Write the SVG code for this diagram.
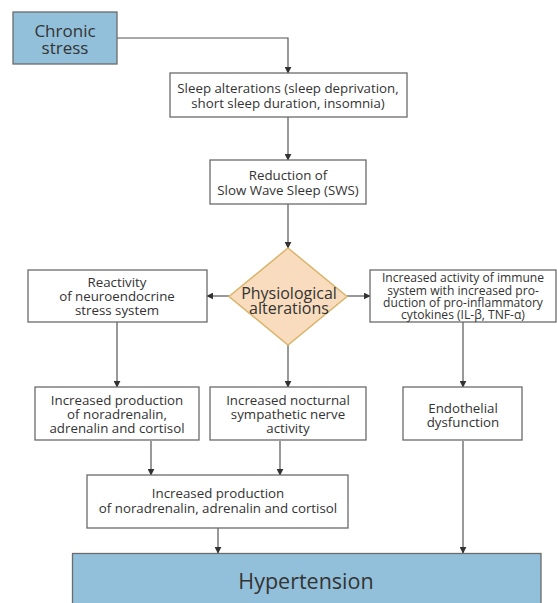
<svg xmlns="http://www.w3.org/2000/svg" width="557" height="603" viewBox="0 0 557 603">
<defs>
<marker id="ah" viewBox="0 0 10 10" refX="9" refY="5" markerWidth="7" markerHeight="7" markerUnits="userSpaceOnUse" orient="auto">
<path d="M0,0 L10,5 L0,10 z" fill="#333"/>
</marker>
<style>
.box{fill:#fff;stroke:#6b6b6b;stroke-width:1.3}
.blue{fill:#92c0da;stroke:#6b6b6b;stroke-width:1.3}
.dia{fill:#f9dcbd;stroke:#d9b46b;stroke-width:1.5}
text{font-family:"Open Sans","Noto Sans","Liberation Sans",sans-serif;fill:#333;text-anchor:middle}
.t13{font-size:13.3px}
.t12{font-size:12.1px}
.conn path{fill:none;stroke:#555;stroke-width:1.2;marker-end:url(#ah)}
</style>
</defs>
<g class="conn" id="connectors">
<path d="M117,38 H288 V73"/>
<path d="M288,117 V160"/>
<path d="M288,204 V248"/>
<path d="M229,296 H207"/>
<path d="M347,296 H370"/>
<path d="M117,322 V387"/>
<path d="M288,345 V387"/>
<path d="M463,322 V387"/>
<path d="M151,441 V475"/>
<path d="M280,441 V475"/>
<path d="M218,528 V553"/>
<path d="M463,441 V553"/>
</g>
<g id="chronic">
<rect class="blue" x="13" y="12" width="104" height="52"/>
<text x="65" y="37" style="font-size:17px">Chronic</text>
<text x="65" y="54" style="font-size:17px">stress</text>
</g>
<g id="sleep">
<rect class="box" x="170" y="73" width="237" height="44"/>
<text class="t13" x="288" y="93">Sleep alterations (sleep deprivation,</text>
<text class="t13" x="288" y="108">short sleep duration, insomnia)</text>
</g>
<g id="sws">
<rect class="box" x="210" y="160" width="156" height="44"/>
<text class="t13" x="288" y="180">Reduction of</text>
<text class="t13" x="288" y="195">Slow Wave Sleep (SWS)</text>
</g>
<g id="physio">
<polygon class="dia" points="288,248 347,296.5 288,345 229,296.5"/>
<text x="289" y="299" style="font-size:16px">Physiological</text>
<text x="289" y="314" style="font-size:16px">alterations</text>
</g>
<g id="reactivity">
<rect class="box" x="28" y="270" width="179" height="52"/>
<text class="t13" x="117" y="287">Reactivity</text>
<text class="t13" x="117" y="301">of neuroendocrine</text>
<text class="t13" x="117" y="315">stress system</text>
</g>
<g id="immune">
<rect class="box" x="370" y="270" width="186" height="52"/>
<text class="t12" x="463" y="282">Increased activity of immune</text>
<text class="t12" x="463" y="294.5">system with increased pro-</text>
<text class="t12" x="463" y="306.5">duction of pro-inflammatory</text>
<text class="t12" x="463" y="319">cytokines (IL-β, TNF-α)</text>
</g>
<g id="production1">
<rect class="box" x="35" y="387" width="164" height="53"/>
<text class="t13" x="117" y="405">Increased production</text>
<text class="t13" x="117" y="419">of noradrenalin,</text>
<text class="t13" x="117" y="433">adrenalin and cortisol</text>
</g>
<g id="nocturnal">
<rect class="box" x="210" y="387" width="156" height="53"/>
<text class="t13" x="288" y="405">Increased nocturnal</text>
<text class="t13" x="288" y="419">sympathetic nerve</text>
<text class="t13" x="288" y="433">activity</text>
</g>
<g id="endothelial">
<rect class="box" x="403" y="387" width="119" height="53"/>
<text class="t13" x="463" y="413">Endothelial</text>
<text class="t13" x="463" y="427">dysfunction</text>
</g>
<g id="production2">
<rect class="box" x="87" y="475" width="261" height="53"/>
<text class="t13" x="218" y="498">Increased production</text>
<text class="t13" x="218" y="513">of noradrenalin, adrenalin and cortisol</text>
</g>
<g id="hypertension">
<rect class="blue" x="72.5" y="553.5" width="468.5" height="60"/>
<text x="306" y="589" style="font-size:21.5px">Hypertension</text>
</g>
</svg>
